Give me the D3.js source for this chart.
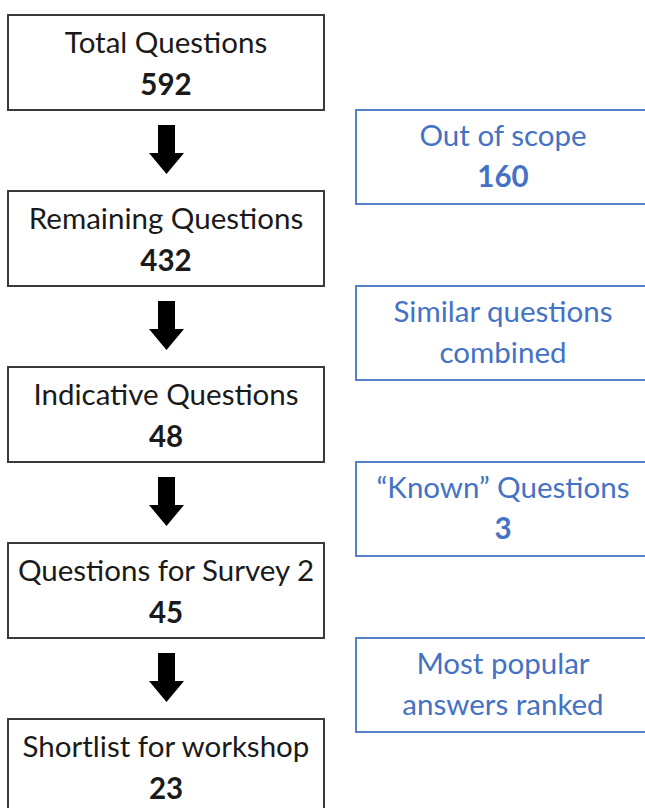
<!DOCTYPE html>
<html>
<head>
<meta charset="utf-8">
<script src="https://cdn.jsdelivr.net/npm/d3@7"></script>
<style>
  html, body { margin: 0; padding: 0; background: #fff; }
  svg { display: block; }
</style>
</head>
<body>
<svg id="chart" width="645" height="808"></svg>
<script>
// ---- data ----
const stepLabels = ["Total Questions", "Remaining Questions", "Indicative Questions", "Questions for Survey 2", "Shortlist for workshop"];
const stepCounts = [592, 432, 48, 45, 23];
const sideLine1 = ["Out of scope", "Similar questions", "\u201CKnown\u201D Questions", "Most popular"];
const sideLine2 = ["160", "combined", "3", "answers ranked"];
const sideLine2Bold = [true, false, true, false];

// ---- layout ----
const svg = d3.select("#chart");
const W = 645, H = 808;
svg.append("rect").attr("width", W).attr("height", H).attr("fill", "#fff");

const boxH = 95;
const y = d3.scaleLinear().domain([0, stepLabels.length - 1]).range([15, 719]);
const xL = d3.scaleLinear().domain([0, 1]).range([8, 324]);
const xR = d3.scaleLinear().domain([0, 1]).range([356, 650]);

const font = "Lato, 'Open Sans', sans-serif";
const black = "#1a1a1a";
const blue = "#4472C4";
const fs = 29.5;

// left boxes
const gL = svg.selectAll("g.step").data(stepLabels).join("g").attr("class", "step");
gL.append("rect")
  .attr("x", xL(0)).attr("y", (d, i) => y(i))
  .attr("width", xL(1) - xL(0)).attr("height", boxH)
  .attr("fill", "#fff").attr("stroke", "#3a3a3a").attr("stroke-width", 2);
gL.append("text")
  .attr("x", (xL(0) + xL(1)) / 2).attr("y", (d, i) => y(i) + boxH / 2 - 9.5)
  .attr("text-anchor", "middle").attr("font-family", font).attr("font-size", fs)
  .attr("fill", black).text(d => d);
gL.append("text")
  .attr("x", (xL(0) + xL(1)) / 2).attr("y", (d, i) => y(i) + boxH / 2 + 32)
  .attr("text-anchor", "middle").attr("font-family", font).attr("font-size", fs)
  .attr("font-weight", "bold").attr("fill", black).text((d, i) => stepCounts[i]);

// arrows
const cx = (xL(0) + xL(1)) / 2 + 0.5;
const arrowPath = (top) => {
  const sw = 8.5, hw = 17.5, shaftEnd = top + 28, tip = top + 49;
  return `M${cx - sw},${top}L${cx + sw},${top}L${cx + sw},${shaftEnd}L${cx + hw},${shaftEnd}` +
         `L${cx},${tip}L${cx - hw},${shaftEnd}L${cx - sw},${shaftEnd}Z`;
};
svg.selectAll("path.arrow").data(d3.range(stepLabels.length - 1)).join("path")
  .attr("class", "arrow")
  .attr("d", i => arrowPath(y(i) + boxH + 15))
  .attr("fill", "#000");

// right boxes
const gR = svg.selectAll("g.side").data(sideLine1).join("g").attr("class", "side");
gR.append("rect")
  .attr("x", xR(0)).attr("y", (d, i) => y(i) + boxH)
  .attr("width", xR(1) - xR(0)).attr("height", boxH - 1)
  .attr("fill", "#fff").attr("stroke", blue).attr("stroke-width", 1.8);
gR.append("text")
  .attr("x", 503).attr("y", (d, i) => y(i) + boxH + boxH / 2 - 12)
  .attr("text-anchor", "middle").attr("font-family", font).attr("font-size", fs)
  .attr("fill", blue).text(d => d);
gR.append("text")
  .attr("x", 503).attr("y", (d, i) => y(i) + boxH + boxH / 2 + 29)
  .attr("text-anchor", "middle").attr("font-family", font).attr("font-size", fs)
  .attr("font-weight", (d, i) => sideLine2Bold[i] ? "bold" : "normal")
  .attr("fill", blue).text((d, i) => sideLine2[i]);
</script>
</body>
</html>
